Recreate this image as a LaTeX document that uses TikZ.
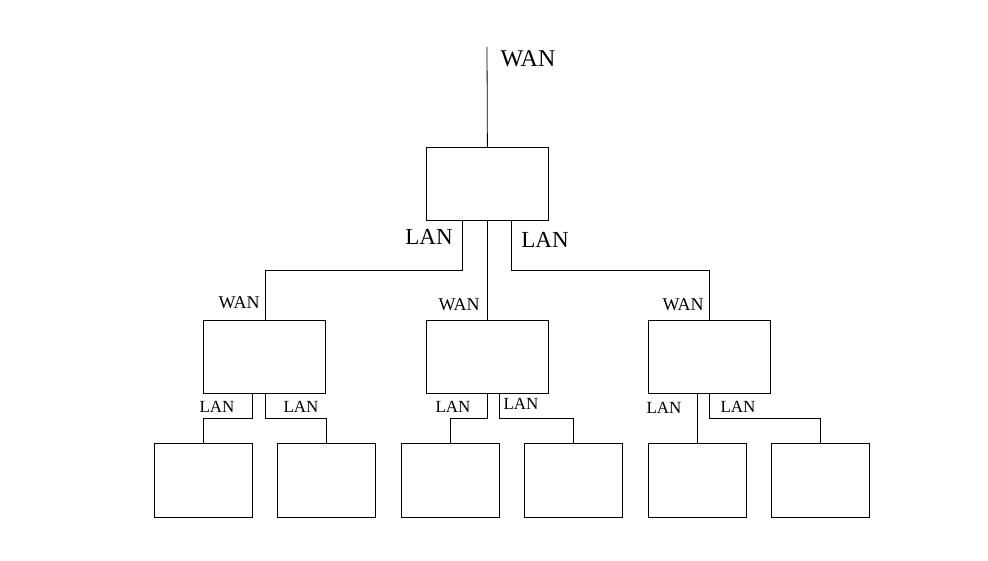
\documentclass[tikz,border=0pt]{standalone}
\usepackage{fontspec}
\setmainfont{Liberation Serif}
\begin{document}
\begin{tikzpicture}[x=1pt,y=-1pt,
  box/.style={draw,line width=0.8pt,minimum width=122pt,minimum height=73pt,anchor=north west,inner sep=0pt},
  sbox/.style={draw,line width=0.8pt,minimum width=98pt,minimum height=74pt,anchor=north west,inner sep=0pt},
  ln/.style={line width=0.8pt},
  big/.style={font=\fontsize{24}{26}\selectfont,inner sep=0pt},
  mid/.style={font=\fontsize{23}{25}\selectfont,inner sep=0pt},
  sw/.style={font=\fontsize{18}{20}\selectfont,inner sep=0pt},
  sl/.style={font=\fontsize{17}{19}\selectfont,inner sep=0pt}]
\useasboundingbox (0,0) rectangle (988,561);
% boxes
\node[box] (top) at (426,147) {};
\node[box] (m1) at (203,320) {};
\node[box] (m2) at (426,320) {};
\node[box] (m3) at (648,320) {};
\node[sbox] (b1) at (154,443) {};
\node[sbox] (b2) at (277,443) {};
\node[sbox] (b3) at (401,443) {};
\node[sbox] (b4) at (524,443) {};
\node[sbox] (b5) at (648,443) {};
\node[sbox] (b6) at (771,443) {};
% top wan
\coordinate (wanend) at (487,47);
\draw[ln] (wanend) -- (top.north);
% top to middle
\draw[ln] (top.south -| 462,0) |- (265,270) -- (m1.north -| 265,0);
\draw[ln] (top.south) -- (m2.north);
\draw[ln] (top.south -| 511,0) |- (709,270) -- (m3.north -| 709,0);
% middle to bottom
\draw[ln] (m1.south -| 252,0) |- (203,418) -- (b1.north -| 203,0);
\draw[ln] (m1.south -| 265,0) |- (326,418) -- (b2.north -| 326,0);
\draw[ln] (m2.south -| 487,0) |- (450,418) -- (b3.north -| 450,0);
\draw[ln] (m2.south -| 499,0) |- (573,418) -- (b4.north -| 573,0);
\draw[ln] (m3.south -| 697,0) -- (b5.north -| 697,0);
\draw[ln] (m3.south -| 709,0) |- (820,418) -- (b6.north -| 820,0);
% labels
\node[big] (lw) at (528,59) {WAN};
\node[mid] (l1) at (429,237) {LAN};
\node[mid] (l2) at (545,240) {LAN};
\node[sw] (w1) at (239,303) {WAN};
\node[sw] (w2) at (459,305) {WAN};
\node[sw] (w3) at (683,305) {WAN};
\node[sl] (s1) at (217,407) {LAN};
\node[sl] (s2) at (301,407) {LAN};
\node[sl] (s3) at (453,407) {LAN};
\node[sl] (s4) at (521,404) {LAN};
\node[sl] (s5) at (664,408) {LAN};
\node[sl] (s6) at (738,407) {LAN};
\end{tikzpicture}
\end{document}
